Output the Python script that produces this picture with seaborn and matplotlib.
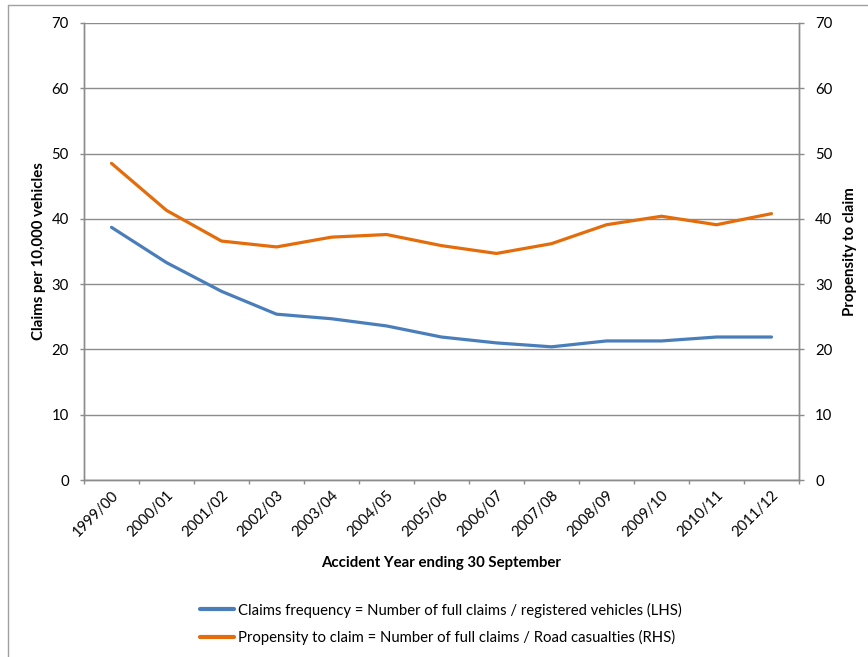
import matplotlib
matplotlib.use("Agg")
import matplotlib.pyplot as plt
from matplotlib.lines import Line2D
import numpy as np
import pandas as pd
import seaborn as sns

# Accident years (ending 30 September)
years = ["1999/00", "2000/01", "2001/02", "2002/03", "2003/04", "2004/05",
         "2005/06", "2006/07", "2007/08", "2008/09", "2009/10", "2010/11",
         "2011/12"]

# Claims per 10,000 registered vehicles (left axis)
claims_frequency = [38.7, 33.3, 28.9, 25.4, 24.7, 23.6, 21.9, 21.0, 20.4,
                    21.3, 21.3, 21.9, 21.9]

# Full claims per road casualty (right axis)
propensity_to_claim = [48.5, 41.3, 36.6, 35.7, 37.2, 37.6, 35.9, 34.7, 36.2,
                       39.1, 40.4, 39.1, 40.8]

left_ticks = [0, 10, 20, 30, 40, 50, 60, 70]
right_ticks = [0, 10, 20, 30, 40, 50, 60, 70]

freq_label = "Claims frequency = Number of full claims / registered vehicles (LHS)"
prop_label = "Propensity to claim = Number of full claims / Road casualties (RHS)"

BLUE = "#4A7EBB"
ORANGE = "#E46C0A"
GRID = "#8C8C8C"
TEXT = "#000000"
TICK_FS = 10.75
LABEL_FS = 10.8
LEGEND_FS = 10.75

sns.set_theme(style="white")
plt.rcParams["font.family"] = ["Lato", "DejaVu Sans"]
plt.rcParams["text.color"] = TEXT
plt.rcParams["axes.labelcolor"] = TEXT
plt.rcParams["xtick.color"] = TEXT
plt.rcParams["ytick.color"] = TEXT

df = pd.DataFrame({
    "pos": np.arange(len(years)),
    "year": years,
    "freq": claims_frequency,
    "prop": propensity_to_claim,
})

fig = plt.figure(figsize=(8.68, 6.57), dpi=100)
ax = fig.add_axes([84 / 868, 177 / 657, (799 - 84) / 868, (480 - 23) / 657])
ax2 = ax.twinx()

sns.lineplot(data=df, x="pos", y="freq", ax=ax, color=BLUE, linewidth=2.3,
             sort=False, label=freq_label, legend=False)
sns.lineplot(data=df, x="pos", y="prop", ax=ax2, color=ORANGE, linewidth=2.3,
             sort=False, label=prop_label, legend=False)

for a, ticks in ((ax, left_ticks), (ax2, right_ticks)):
    a.set_ylim(ticks[0], ticks[-1])
    a.set_yticks(ticks)
    a.set_xlim(-0.5, len(years) - 0.5)

# Horizontal gridlines drawn on the left axis
ax.yaxis.grid(True, color=GRID, linewidth=1.0)
ax.set_axisbelow(True)
ax.xaxis.grid(False)
ax2.grid(False)

# Category boundaries carry the tick marks, centres carry the labels
ax.set_xticks(np.arange(-0.5, len(years)), minor=False)
ax.set_xticklabels([])
ax.set_xticks(df["pos"], minor=True)
ax.set_xticklabels(years, minor=True, rotation=45, ha="right", va="top",
                   rotation_mode="anchor", fontsize=TICK_FS)
ax.tick_params(axis="x", which="major", direction="out", length=3,
               color=GRID, width=1, bottom=True)
ax.tick_params(axis="x", which="minor", length=0, pad=6)
ax.tick_params(axis="y", direction="out", length=3, color=GRID, width=1,
               left=True, labelsize=TICK_FS, pad=8)
ax2.tick_params(axis="y", direction="out", length=3.6, color=GRID, width=1,
                right=True, labelsize=TICK_FS, pad=8)

for a in (ax, ax2):
    for side, sp in a.spines.items():
        sp.set_color(GRID)
        sp.set_linewidth(1.0)
    a.spines["top"].set_visible(False)

ax.set_xlabel("Accident Year ending 30 September", fontsize=LABEL_FS,
              fontweight="bold", labelpad=12)
ax.set_ylabel("Claims per 10,000 vehicles", fontsize=LABEL_FS,
              fontweight="bold", labelpad=4)
ax2.set_ylabel("Propensity to claim", fontsize=LABEL_FS, fontweight="bold",
               labelpad=8)

handles = [Line2D([], [], color=BLUE, linewidth=3),
           Line2D([], [], color=ORANGE, linewidth=3)]
fig.legend(handles, [freq_label, prop_label], loc="center",
           bbox_to_anchor=(441 / 868, 1 - 624 / 657), frameon=False,
           fontsize=LEGEND_FS, handlelength=2.25, handletextpad=0.25,
           labelspacing=0.85)

# Outer chart frame
fig.add_artist(Line2D([8 / 868, 8 / 868], [0, 1 - 5 / 657],
                      transform=fig.transFigure, color="#A0A0A0", linewidth=1))
fig.add_artist(Line2D([8 / 868, 1], [1 - 5 / 657, 1 - 5 / 657],
                      transform=fig.transFigure, color="#A0A0A0", linewidth=1))

fig.savefig("out.png", dpi=100, facecolor="white")
